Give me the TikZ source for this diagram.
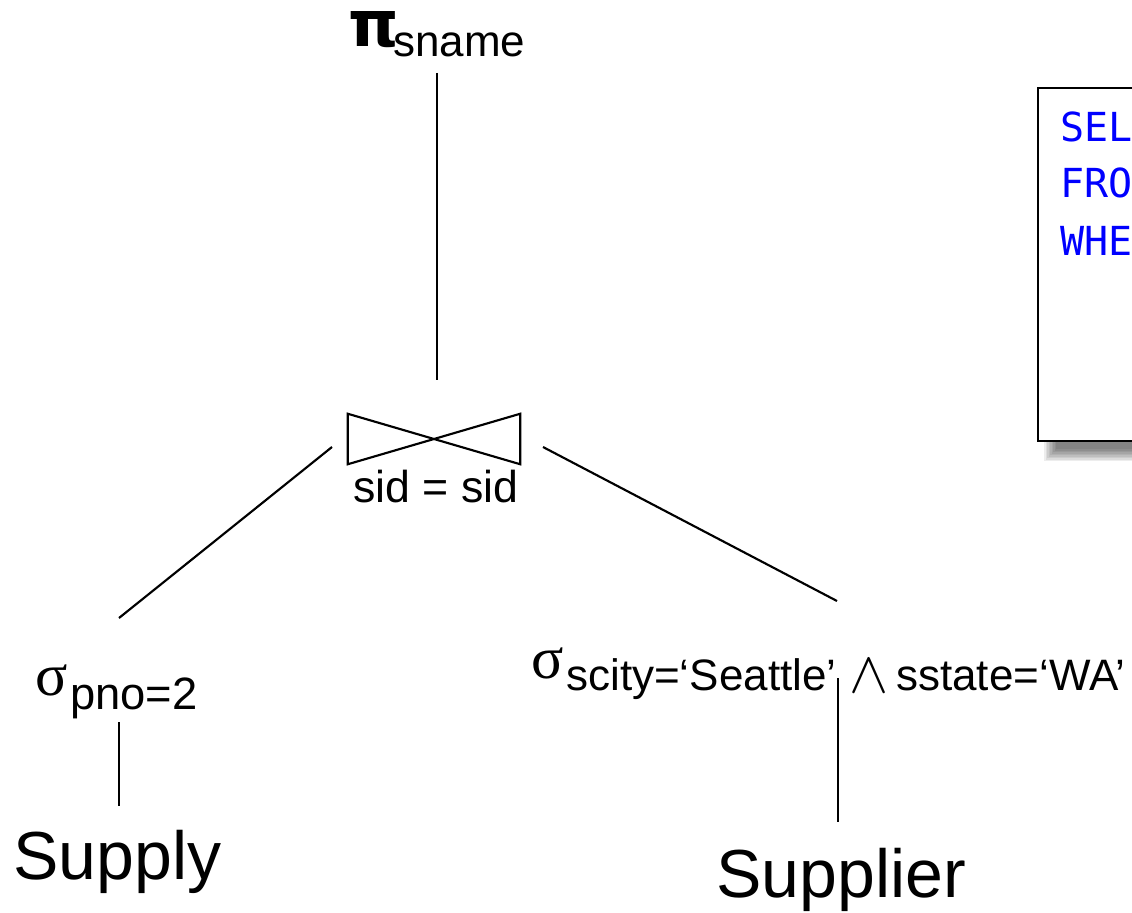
\documentclass[tikz,border=0pt]{standalone}
\usepackage{fontspec}
\setmainfont{Liberation Sans}
\newfontfamily\greekfont{Liberation Serif}
\newfontfamily\pifont{DejaVu Sans}
\newfontfamily\codefont{DejaVu Sans Mono}
\newcommand\pxsize[1]{\fontsize{#1}{#1}\selectfont}
\begin{document}
\begin{tikzpicture}[x=0.75pt,y=-0.75pt,
  edge/.style={line width=1.6pt},
  txt/.style={inner sep=0pt, anchor=base west},
  rel/.style={txt, font=\pxsize{51pt}},
  opsym/.style={txt, font=\greekfont\pxsize{45pt}},
  opsub/.style={txt, font=\pxsize{33pt}},
  code/.style={txt, font=\codefont\pxsize{30pt}, text=blue}]
\useasboundingbox (0,0) rectangle (1132,913);
\clip (0,0) rectangle (1132,913);

% SQL box with a soft drop shadow, cut off at the right edge
\foreach \d in {-6,-4.5,...,6}
  \fill[black, opacity=0.07] (1050-\d,100-\d) rectangle (1145+\d,455+\d);
\draw[line width=2pt, fill=white] (1038,88) rectangle (1145,441);
\node[code] (sel) at (1060,142) {SEL};
\node[code] (fro) at (1060,198) {FRO};
\node[code] (whe) at (1060,255) {WHE};

% projection
\node[txt, font=\pifont\bfseries\pxsize{48pt}] (pi) at (348,47) {π};
\node[opsub] (pisub) at (393,57) {sname};

% join (bowtie) with its condition
\node[minimum width=172*0.75pt, minimum height=50*0.75pt, inner sep=0pt] (join) at (434,439) {};
\draw[edge] (join.north west) -- (join.south west) -- (join.north east) -- (join.south east) -- cycle;
\node[inner sep=0pt, anchor=base, font=\pxsize{33.5pt}] (cond) at (436,502) {sid = sid};

% left selection
\node[opsym] (sigl) at (35,695) {σ};
\node[opsub, font=\pxsize{34pt}] (sigl sub) at (70,709) {pno=2};
\node[rel] (supply) at (13,879) {Supply};

% right selection
\node[opsym] (sigr) at (531,678) {σ};
\node[opsub] (sigr sub) at (566,690) {scity=‘Seattle’};
\node[inner sep=0pt, anchor=base, font=\pxsize{24.88pt}] (and) at (869,692) {\scalebox{1.77}{$\wedge$}};
\node[opsub] (sigr sub2) at (896,690) {sstate=‘WA’};
\node[rel] (supplier) at (716,897) {Supplier};

% connector ends
\coordinate (pi-b) at (437,73);
\coordinate (join-t) at (437,380);
\coordinate (join-l) at (332,447);
\coordinate (join-r) at (543,447);
\coordinate (sigl-t) at (119,618);
\coordinate (sigr-t) at (837,601);
\coordinate (sigl-b) at (119,722);
\coordinate (supply-t) at (119,806);
\coordinate (sigr-b) at (838,678);
\coordinate (supplier-t) at (838,822);

\draw[edge] (pi-b) -- (join-t);
\draw[edge] (join-l) -- (sigl-t);
\draw[edge] (join-r) -- (sigr-t);
\draw[edge] (sigl-b) -- (supply-t);
\draw[edge] (sigr-b) -- (supplier-t);
\end{tikzpicture}
\end{document}
